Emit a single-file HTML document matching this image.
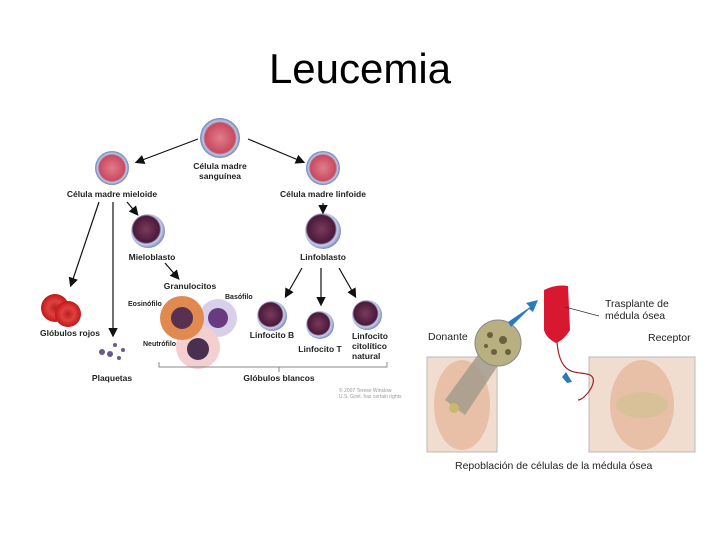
<!DOCTYPE html>
<html><head><meta charset="utf-8"><style>
html,body{margin:0;padding:0;background:#fff;}
svg{display:block}
text{font-family:"Liberation Sans",sans-serif;}
</style></head><body>
<svg width="720" height="540" viewBox="0 0 720 540" xmlns="http://www.w3.org/2000/svg">
<defs>
<radialGradient id="stem" cx="50%" cy="50%" r="50%"><stop offset="0" stop-color="#e07d8c"/><stop offset="0.75" stop-color="#c84a60"/><stop offset="0.85" stop-color="#b8c8e8"/><stop offset="1" stop-color="#6e80b8"/></radialGradient>
<radialGradient id="blast" cx="45%" cy="45%" r="55%"><stop offset="0" stop-color="#7a3a5c"/><stop offset="0.7" stop-color="#4a1a3a"/><stop offset="0.8" stop-color="#c8d0f0"/><stop offset="1" stop-color="#8090c0"/></radialGradient>
<radialGradient id="rbc" cx="50%" cy="50%" r="50%"><stop offset="0" stop-color="#b82020"/><stop offset="0.5" stop-color="#e04040"/><stop offset="1" stop-color="#c01818"/></radialGradient>
<marker id="ar" markerWidth="8" markerHeight="8" refX="6" refY="4" orient="auto"><path d="M0,0 L8,4 L0,8 Z" fill="#111"/></marker>
</defs>
<text x="360" y="83" font-size="42" text-anchor="middle" fill="#000">Leucemia</text>

<g font-size="8.5" font-weight="bold" fill="#222">
<circle cx="220" cy="138" r="20" fill="url(#stem)"/>
<text x="220" y="169" text-anchor="middle">Célula madre</text>
<text x="220" y="179" text-anchor="middle">sanguínea</text>
<circle cx="112" cy="168" r="17" fill="url(#stem)"/>
<text x="112" y="197" text-anchor="middle">Célula madre mieloide</text>
<circle cx="323" cy="168" r="17" fill="url(#stem)"/>
<text x="323" y="197" text-anchor="middle">Célula madre linfoide</text>
<circle cx="148" cy="231" r="17" fill="url(#blast)"/>
<text x="152" y="260" text-anchor="middle">Mieloblasto</text>
<circle cx="323" cy="231" r="18" fill="url(#blast)"/>
<text x="323" y="260" text-anchor="middle">Linfoblasto</text>
<text x="190" y="289" text-anchor="middle">Granulocitos</text>
<circle cx="218" cy="318" r="19" fill="#d8d0e8"/><circle cx="218" cy="318" r="10" fill="#6a3a80"/>
<circle cx="198" cy="347" r="22" fill="#f3cfcf"/><circle cx="198" cy="349" r="11" fill="#4a3050"/>
<circle cx="182" cy="318" r="22" fill="#e08a50"/><circle cx="182" cy="318" r="11" fill="#5a3050"/>
<text x="225" y="299" font-size="7">Basófilo</text>
<text x="128" y="306" font-size="7">Eosinófilo</text>
<text x="143" y="346" font-size="7">Neutrófilo</text>
<ellipse cx="55" cy="308" rx="14" ry="14" fill="url(#rbc)"/><ellipse cx="68" cy="314" rx="13" ry="13" fill="url(#rbc)"/>
<text x="70" y="336" text-anchor="middle">Glóbulos rojos</text>
<g fill="#6a5a8a"><circle cx="102" cy="352" r="3"/><circle cx="110" cy="354" r="3"/><circle cx="115" cy="345" r="2"/><circle cx="119" cy="358" r="2"/><circle cx="123" cy="350" r="2"/></g>
<text x="112" y="381" text-anchor="middle">Plaquetas</text>
<circle cx="272" cy="316" r="15" fill="url(#blast)"/>
<text x="272" y="338" text-anchor="middle">Linfocito B</text>
<circle cx="320" cy="325" r="14" fill="url(#blast)"/>
<text x="320" y="352" text-anchor="middle">Linfocito T</text>
<circle cx="367" cy="315" r="15" fill="url(#blast)"/>
<text x="352" y="339">Linfocito</text><text x="352" y="349">citolítico</text><text x="352" y="359">natural</text>
<text x="279" y="381" text-anchor="middle">Glóbulos blancos</text>
</g>
<g stroke="#111" stroke-width="1.2" fill="none" marker-end="url(#ar)">
<line x1="198" y1="139" x2="137" y2="162"/>
<line x1="248" y1="139" x2="303" y2="162"/>
<line x1="99" y1="202" x2="71" y2="285"/>
<line x1="113" y1="202" x2="113" y2="335"/>
<line x1="127" y1="202" x2="137" y2="214"/>
<line x1="323" y1="203" x2="323" y2="212"/>
<line x1="165" y1="263" x2="178" y2="278"/>
<line x1="302" y1="268" x2="286" y2="296"/>
<line x1="321" y1="268" x2="321" y2="304"/>
<line x1="339" y1="268" x2="355" y2="296"/>
</g>
<path d="M159,362 V367 H387 V362 M279,367 V372" stroke="#888" fill="none"/>
<text x="339" y="392" font-size="5" fill="#999">© 2007 Terese Winslow</text>
<text x="339" y="398" font-size="5" fill="#999">U.S. Govt. has certain rights</text>

<!-- right -->
<rect x="427" y="357" width="70" height="95" fill="#f0ddd0" stroke="#bbb"/>
<ellipse cx="462" cy="405" rx="28" ry="45" fill="#e8c0a8"/>
<path d="M445,400 L485,345 L505,355 L465,415 Z" fill="#a09888" opacity="0.8"/>
<circle cx="454" cy="408" r="5" fill="#c8b870"/>
<rect x="589" y="357" width="106" height="95" fill="#f0ddd0" stroke="#bbb"/>
<ellipse cx="642" cy="405" rx="32" ry="45" fill="#e8c0a8"/>
<ellipse cx="642" cy="405" rx="26" ry="13" fill="#d8c098"/>
<circle cx="498" cy="343" r="23" fill="#b8b080" stroke="#888"/>
<g fill="#6a6040"><circle cx="490" cy="335" r="3"/><circle cx="503" cy="340" r="4"/><circle cx="494" cy="352" r="3"/><circle cx="508" cy="352" r="3"/><circle cx="486" cy="346" r="2"/></g>
<path d="M508,322 L530,307 L526,303 L538,300 L533,312 L529,309 L511,327 Z" fill="#2a7ac0"/>
<path d="M562,377 L567,383 L572,382 L566,372 Z" fill="#2a7ac0"/>
<path d="M544,290 Q556,284 568,286 L570,330 Q564,340 556,343 Q546,338 544,330 Z" fill="#d81830"/>
<path d="M557,342 C560,380 580,370 590,375 C600,380 585,400 578,400" stroke="#a02020" fill="none" stroke-width="1.2"/>
<line x1="565" y1="307" x2="599" y2="316" stroke="#333" stroke-width="0.7"/>
<g font-size="10.5" fill="#222">
<text x="605" y="307">Trasplante de</text>
<text x="605" y="319">médula ósea</text>
<text x="428" y="340">Donante</text>
<text x="648" y="341">Receptor</text>
<text x="455" y="469">Repoblación de células de la médula ósea</text>
</g>
</svg>
</body></html>
